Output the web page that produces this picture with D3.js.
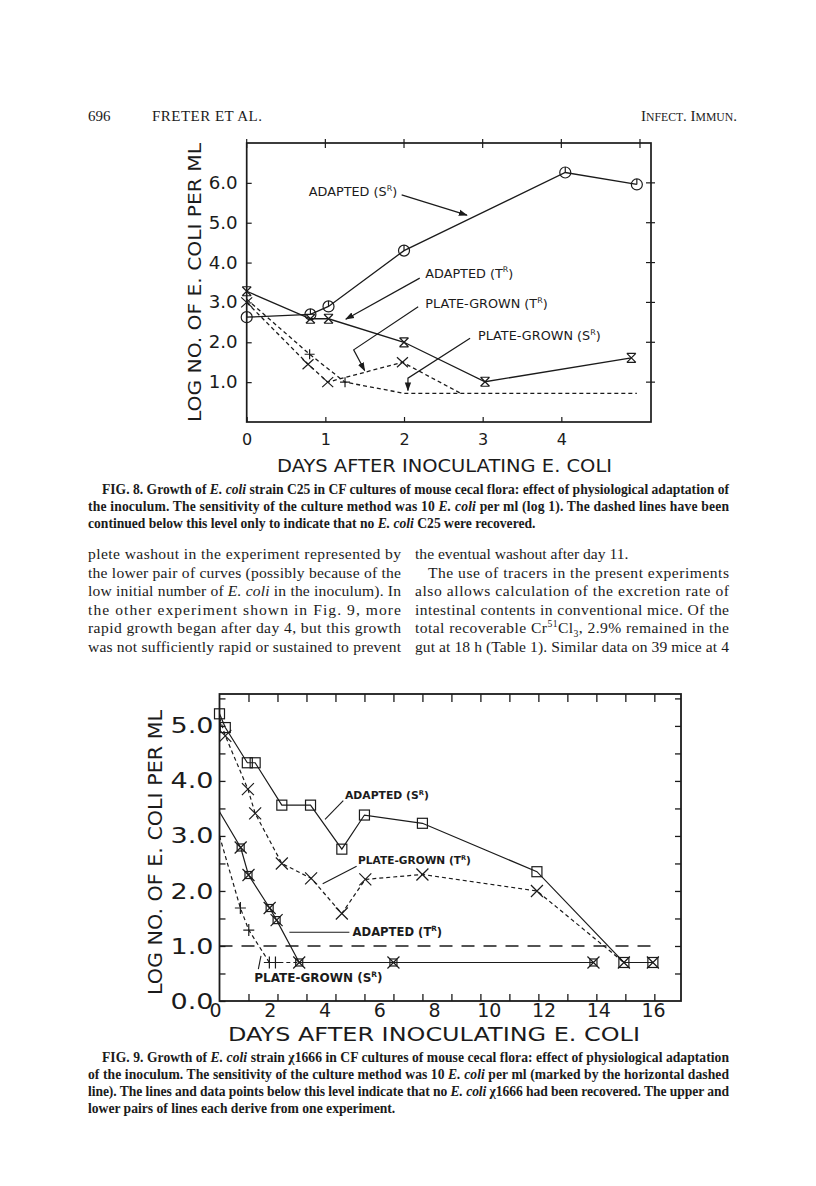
<!DOCTYPE html>
<html><head><meta charset="utf-8">
<script src="https://cdn.jsdelivr.net/npm/d3@7"></script>
<style>body{margin:0;background:#fff}</style>
</head><body>
<svg id="page" width="816" height="1186"></svg>
<script>
// ---------------- DATA ----------------
const headerPage = "696", headerAuthors = "FRETER ET AL.", headerJournal = "INFECT. IMMUN.";

// Fig. 8 (days, log10 E. coli per ml; marks: 1 = plotted symbol)
const f8AdaptedS_days = [0, 0.81, 1.04, 2.0, 4.05, 4.96];
const f8AdaptedS_vals = [2.63, 2.70, 2.90, 4.30, 6.26, 5.96];
const f8AdaptedT_days = [0, 0.81, 1.04, 2.0, 3.03, 4.89];
const f8AdaptedT_vals = [3.28, 2.59, 2.59, 2.0, 1.01, 1.61];
const f8PlateT_days  = [0, 0.78, 1.03, 1.98, 2.72];
const f8PlateT_vals  = [3.0, 1.45, 1.0, 1.5, 0.72];
const f8PlateT_marks = [1, 1, 1, 1, 0];
const f8PlateS_days  = [0, 0.80, 1.25, 2.0, 4.96];
const f8PlateS_vals  = [3.08, 1.70, 1.0, 0.72, 0.72];
const f8PlateS_marks = [0, 1, 1, 0, 0];
const f8YTicks = [1, 2, 3, 4, 5, 6];
const f8XTicks = [0, 1, 2, 3, 4];
const f8TopTicks = [0, 1, 2, 3, 4, 5];

// Fig. 9
const f9AdaptedS_days = [0, 0.2, 0.96, 1.23, 2.15, 3.14, 4.22, 5.0, 7.0, 10.95, 13.95, 14.95];
const f9AdaptedS_vals = [5.22, 4.97, 4.33, 4.33, 3.56, 3.56, 2.76, 3.38, 3.23, 2.35, 0.70, 0.70];
const f9PlateT_days  = [0, 0.2, 0.98, 1.23, 2.15, 3.16, 4.22, 5.03, 7.0, 10.95, 13.95, 14.95];
const f9PlateT_vals  = [5.15, 4.82, 3.85, 3.41, 2.50, 2.23, 1.59, 2.21, 2.30, 2.0, 0.70, 0.70];
const f9PlateT_marks = [0, 1, 1, 1, 1, 1, 1, 1, 1, 1, 1, 1];
const f9AdaptedT_days = [0, 0.73, 1.0, 1.73, 1.97, 2.75, 6.0, 12.9];
const f9AdaptedT_vals = [3.44, 2.79, 2.29, 1.69, 1.47, 0.70, 0.70, 0.70];
const f9AdaptedT_marks = [0, 1, 1, 1, 1, 1, 1, 1];
const f9PlateS_days  = [0, 0.72, 1.01, 1.72, 1.93, 2.75];
const f9PlateS_vals  = [3.0, 1.69, 1.29, 0.70, 0.70, 0.70];
const f9PlateS_marks = [0, 1, 1, 1, 1, 0];
const f9Threshold = 1.0;
const f9YTicks = [0, 0.5, 1, 1.5, 2, 2.5, 3, 3.5, 4, 4.5, 5, 5.5];
const f9XLabels = [0, 2, 4, 6, 8, 10, 12, 14, 16];
const f9DayTicks = [1, 2, 3, 4, 5, 6, 7, 8, 9, 10, 11, 12, 13, 14, 15];

const xLabelText = "DAYS AFTER INOCULATING E. COLI";
const yLabelText = "LOG NO. OF E. COLI PER ML";

// ---------------- HELPERS ----------------
const INK = "#1b1b1b";
const SERIF = "'Liberation Serif','Times New Roman',serif";
const SANS = "'DejaVu Sans','Liberation Sans',sans-serif";
const svg = d3.select("#page");
svg.append("rect").attr("width", 816).attr("height", 1186).attr("fill", "#fff");

const defs = svg.append("defs");
defs.append("marker").attr("id", "ah").attr("viewBox", "0 0 10 10").attr("refX", 9).attr("refY", 5)
  .attr("markerWidth", 9).attr("markerHeight", 9).attr("markerUnits", "userSpaceOnUse").attr("orient", "auto")
  .append("path").attr("d", "M0,1.5L10,5L0,8.5Z").attr("fill", INK);

function rich(parent, x, y, segs, o) {
  const t = parent.append("text").attr("x", x).attr("y", y)
    .attr("font-family", o.family).attr("font-size", o.size)
    .attr("font-weight", o.weight || "normal").attr("fill", INK);
  if (o.anchor) t.attr("text-anchor", o.anchor);
  if (o.width) t.attr("textLength", o.width).attr("lengthAdjust", o.adjust || "spacing");
  let cur = 0;
  segs.forEach(s => {
    const [str, st] = typeof s === "string" ? [s, ""] : s;
    const ts = t.append("tspan").text(str);
    let shift = 0, fs = o.size;
    if (st.includes("i")) ts.attr("font-style", "italic");
    if (st.includes("sup")) { shift = -o.size * 0.42; fs = o.size * 0.62; }
    if (st.includes("sub")) { shift = o.size * 0.22; fs = o.size * 0.62; }
    if (st.includes("sc")) { fs = o.size * 0.78; }
    ts.attr("font-size", fs);
    if (shift - cur !== 0) ts.attr("dy", shift - cur);
    cur = shift;
  });
  return t;
}

function series(days, vals, marks) {
  return days.map((d, i) => ({ x: d, y: vals[i], m: marks ? marks[i] : 1 }));
}

// ---------------- HEADER ----------------
rich(svg, 88, 121, [headerPage], { family: SERIF, size: 15 });
rich(svg, 152, 121, [headerAuthors], { family: SERIF, size: 15, width: 110 });
rich(svg, 737, 121, [["I", ""], ["NFECT", "sc"], [". I", ""], ["MMUN", "sc"], [".", ""]],
  { family: SERIF, size: 15, anchor: "end" });

// ---------------- FIG. 8 ----------------
const x8 = d3.scaleLinear().domain([0, 5.14]).range([246.7, 651]);
const y8 = d3.scaleLinear().domain([0, 7]).range([422, 143]);
const g8 = svg.append("g");

g8.append("rect").attr("x", x8(0)).attr("y", y8(7)).attr("width", x8(5.14) - x8(0))
  .attr("height", y8(0) - y8(7)).attr("fill", "none").attr("stroke", INK).attr("stroke-width", 1.7);

const ax8L = g8.append("g").attr("transform", `translate(${x8(0)},0)`)
  .call(d3.axisLeft(y8).tickValues(f8YTicks).tickFormat(d3.format(".1f")).tickSize(-5).tickPadding(9));
const ax8B = g8.append("g").attr("transform", `translate(0,${y8(0)})`)
  .call(d3.axisBottom(x8).tickValues(f8XTicks).tickFormat(d3.format("d")).tickSize(-5).tickPadding(12));
[ax8L, ax8B].forEach(a => {
  a.select(".domain").remove();
  a.selectAll("line").attr("stroke", INK).attr("stroke-width", 1.2);
  a.selectAll("text").attr("font-family", SANS).attr("font-size", 17).attr("fill", INK);
});
ax8L.selectAll("text").attr("textLength", 29).attr("lengthAdjust", "spacingAndGlyphs");
ax8B.selectAll("text").attr("font-size", 16);
// crossing ticks on top & right
g8.append("g").selectAll("line").data(f8TopTicks).join("line")
  .attr("x1", d => x8(d)).attr("x2", d => x8(d)).attr("y1", y8(7) - 4).attr("y2", y8(7) + 5)
  .attr("stroke", INK).attr("stroke-width", 1.2);
g8.append("g").selectAll("line").data(f8YTicks).join("line")
  .attr("y1", d => y8(d)).attr("y2", d => y8(d)).attr("x1", x8(5.14) - 5).attr("x2", x8(5.14) + 4)
  .attr("stroke", INK).attr("stroke-width", 1.2);

// axis titles
rich(g8, 444.5, 472, [xLabelText], { family: SANS, size: 18, anchor: "middle", width: 335, adjust: "spacingAndGlyphs" });
rich(g8.append("g").attr("transform", `translate(201,${(y8(0) + y8(7)) / 2}) rotate(-90)`), 0, 0, [yLabelText],
  { family: SANS, size: 17.5, anchor: "middle", width: 279, adjust: "spacingAndGlyphs" });

const line8 = d3.line().x(d => x8(d.x)).y(d => y8(d.y));
const f8Series = [
  { pts: series(f8AdaptedS_days, f8AdaptedS_vals), dash: null, mk: "circ" },
  { pts: series(f8AdaptedT_days, f8AdaptedT_vals), dash: null, mk: "xbar" },
  { pts: series(f8PlateT_days, f8PlateT_vals, f8PlateT_marks), dash: "4,3", mk: "x" },
  { pts: series(f8PlateS_days, f8PlateS_vals, f8PlateS_marks), dash: "4,3", mk: "plus" }
];
const shapes = {
  circ: g => { g.append("circle").attr("r", 5.5); g.append("path").attr("d", "M0,-5.5V0"); },
  xbar: g => g.append("path").attr("d", "M-4.5,-4.5L4.5,4.5M4.5,-4.5L-4.5,4.5M-4.5,-4.5H4.5M-4.5,4.5H4.5"),
  x: g => g.append("path").attr("d", "M-5.5,-5L5.5,5M5.5,-5L-5.5,5"),
  plus: g => g.append("path").attr("d", "M-5,0H5M0,-5V5"),
  sq: g => { g.append("rect").attr("x", -5).attr("y", -5).attr("width", 10).attr("height", 10); },
  x9: g => g.append("path").attr("d", "M-6,-6L6,6M6,-6L-6,6"),
  boxstar: g => { g.append("rect").attr("x", -3.5).attr("y", -3.5).attr("width", 7).attr("height", 7);
                  g.append("path").attr("d", "M-6,-6L6,6M6,-6L-6,6"); },
  plus9: g => g.append("path").attr("d", "M-5.5,0H5.5M0,-6V6")
};
function drawSeries(parent, list, line, xs, ys, width) {
  list.forEach(s => {
    parent.append("path").attr("d", line(s.pts)).attr("fill", "none").attr("stroke", INK)
      .attr("stroke-width", width).attr("stroke-dasharray", s.dash);
    parent.append("g").selectAll("g").data(s.pts.filter(p => p.m)).join("g")
      .attr("transform", d => `translate(${xs(d.x)},${ys(d.y)})`)
      .attr("fill", "none").attr("stroke", INK).attr("stroke-width", 1.2)
      .each(function () { shapes[s.mk](d3.select(this)); });
  });
}
drawSeries(g8, f8Series, line8, x8, y8, 1.3);

// annotations (positions in data units)
const ann8 = g8.append("g");
const A8 = { family: SANS, size: 12.8 };
rich(ann8, x8(0.79), y8(5.67), ["ADAPTED (S", ["R", "sup"], ")"], A8);
rich(ann8, x8(2.27), y8(3.62), ["ADAPTED (T", ["R", "sup"], ")"], A8);
rich(ann8, x8(2.27), y8(2.86), ["PLATE-GROWN (T", ["R", "sup"], ")"], A8);
rich(ann8, x8(2.94), y8(2.06), ["PLATE-GROWN (S", ["R", "sup"], ")"], A8);
const lead8 = d3.line().x(d => x8(d[0])).y(d => y8(d[1]));
[
  [[1.97, 5.70], [2.80, 5.19]],
  [[2.20, 3.61], [1.26, 2.58]],
  [[2.18, 2.89], [1.36, 1.81], [1.50, 1.29]],
  [[2.84, 2.10], [2.05, 1.10], [2.05, 0.79]]
].forEach(p => ann8.append("path").attr("d", lead8(p)).attr("fill", "none").attr("stroke", INK)
  .attr("stroke-width", 1.2).attr("marker-end", "url(#ah)"));

// ---------------- CAPTION 8 ----------------
const CAP = { family: SERIF, size: 13.6, weight: "bold" };
rich(svg, 102, 494, ["FIG. 8. Growth of ", ["E. coli", "i"], " strain C25 in CF cultures of mouse cecal flora: effect of physiological adaptation of"], { ...CAP, width: 627 });
rich(svg, 88, 511, ["the inoculum. The sensitivity of the culture method was 10 ", ["E. coli", "i"], " per ml (log 1). The dashed lines have been"], { ...CAP, width: 641 });
rich(svg, 88, 527.5, ["continued below this level only to indicate that no ", ["E. coli", "i"], " C25 were recovered."], CAP);

// ---------------- BODY TEXT ----------------
const BODY = { family: SERIF, size: 15.6 };
const leftCol = [
  [["plete washout in the experiment represented by"], true],
  [["the lower pair of curves (possibly because of the"], true],
  [["low initial number of ", ["E. coli", "i"], " in the inoculum). In"], true],
  [["the other experiment shown in Fig. 9, more"], true],
  [["rapid growth began after day 4, but this growth"], true],
  [["was not sufficiently rapid or sustained to prevent"], true]
];
const rightCol = [
  [["the eventual washout after day 11."], false, 0],
  [["The use of tracers in the present experiments"], true, 13],
  [["also allows calculation of the excretion rate of"], true, 0],
  [["intestinal contents in conventional mice. Of the"], true, 0],
  [["total recoverable Cr", ["51", "sup"], "Cl", ["3", "sub"], ", 2.9% remained in the"], true, 0],
  [["gut at 18 h (Table 1). Similar data on 39 mice at 4"], true, 0]
];
leftCol.forEach((l, i) => rich(svg, 88, 559 + i * 18.6, l[0], l[1] ? { ...BODY, width: 313 } : BODY));
rightCol.forEach((l, i) => rich(svg, 415 + l[2], 559 + i * 18.6, l[0], l[1] ? { ...BODY, width: 314 - l[2] } : BODY));

// ---------------- FIG. 9 ----------------
const x9 = d3.scaleLinear().domain([0, 15.92]).range([219.5, 681]);
const x9lab = d3.scaleLinear().domain([0, 16]).range([215, 653]);
const y9 = d3.scaleLinear().domain([0, 5.58]).range([1001, 694]);
const g9 = svg.append("g");
g9.append("rect").attr("x", x9(0)).attr("y", y9(5.58)).attr("width", x9(15.92) - x9(0))
  .attr("height", y9(0) - y9(5.58)).attr("fill", "none").attr("stroke", INK).attr("stroke-width", 1.8);

const ax9L = g9.append("g").attr("transform", `translate(${x9(0)},0)`)
  .call(d3.axisLeft(y9).tickValues(f9YTicks).tickFormat(d => d % 1 === 0 ? d.toFixed(1) : "").tickSize(-6).tickPadding(6));
const ax9R = g9.append("g").attr("transform", `translate(${x9(15.92)},0)`)
  .call(d3.axisRight(y9).tickValues(f9YTicks.filter(d => d > 0)).tickFormat("").tickSize(-6));
const ax9T = g9.append("g").attr("transform", `translate(0,${y9(5.58)})`)
  .call(d3.axisTop(x9).tickValues(f9DayTicks).tickFormat("").tickSize(-8));
const ax9B = g9.append("g").attr("transform", `translate(0,${y9(0)})`)
  .call(d3.axisBottom(x9).tickValues(f9DayTicks).tickFormat("").tickSize(-7));
const ax9Lab = g9.append("g").attr("transform", `translate(0,${y9(0)})`)
  .call(d3.axisBottom(x9lab).tickValues(f9XLabels).tickFormat(d3.format("d")).tickSize(0).tickPadding(2.5));
[ax9L, ax9R, ax9T, ax9B, ax9Lab].forEach(a => {
  a.select(".domain").remove();
  a.selectAll("line").attr("stroke", INK).attr("stroke-width", 1.3);
  a.selectAll("text").attr("font-family", SANS).attr("font-size", 22).attr("fill", INK);
});
ax9L.selectAll("text").filter(d => d % 1 === 0).attr("textLength", 43).attr("lengthAdjust", "spacingAndGlyphs");
ax9Lab.selectAll("text").attr("font-size", 19);

rich(g9, 434, 1041, [xLabelText], { family: SANS, size: 20, anchor: "middle", width: 412, adjust: "spacingAndGlyphs" });
rich(g9.append("g").attr("transform", `translate(162,${(710 + 995) / 2}) rotate(-90)`), 0, 0, [yLabelText],
  { family: SANS, size: 19.5, anchor: "middle", width: 285, adjust: "spacingAndGlyphs" });

// detection limit
g9.append("path").attr("d", d3.line().x(d => x9(d)).y(() => y9(f9Threshold))([0, 15]))
  .attr("stroke", INK).attr("stroke-width", 1.3).attr("stroke-dasharray", "13,9").attr("fill", "none");

const line9 = d3.line().x(d => x9(d.x)).y(d => y9(d.y));
const f9Series = [
  { pts: series(f9AdaptedS_days, f9AdaptedS_vals), dash: null, mk: "sq" },
  { pts: series(f9PlateT_days, f9PlateT_vals, f9PlateT_marks), dash: "4,3", mk: "x9" },
  { pts: series(f9AdaptedT_days, f9AdaptedT_vals, f9AdaptedT_marks), dash: null, mk: "boxstar" },
  { pts: series(f9PlateS_days, f9PlateS_vals, f9PlateS_marks), dash: "4,3", mk: "plus9" }
];
drawSeries(g9, f9Series, line9, x9, y9, 1.2);

const ann9 = g9.append("g");
const A9 = { family: SANS, weight: "bold" };
rich(ann9, x9(4.33), y9(3.67), ["ADAPTED (S", ["R", "sup"], ")"], { ...A9, size: 10.8 });
rich(ann9, x9(4.78), y9(2.49), ["PLATE-GROWN (T", ["R", "sup"], ")"], { ...A9, size: 10.6 });
rich(ann9, x9(4.59), y9(1.18), ["ADAPTED (T", ["R", "sup"], ")"], { ...A9, size: 11.6 });
rich(ann9, x9(1.20), y9(0.35), ["PLATE-GROWN (S", ["R", "sup"], ")"], { ...A9, size: 12 });
const lead9 = d3.line().x(d => x9(d[0])).y(d => y9(d[1]));
[
  [[4.27, 3.64], [3.64, 3.30]],
  [[4.73, 2.45], [3.56, 2.13]],
  [[4.48, 1.25], [2.41, 1.25]],
  [[1.43, 0.82], [1.34, 0.58]]
].forEach(p => ann9.append("path").attr("d", lead9(p)).attr("fill", "none").attr("stroke", INK).attr("stroke-width", 1.1));

// ---------------- CAPTION 9 ----------------
rich(svg, 102, 1062, ["FIG. 9. Growth of ", ["E. coli", "i"], " strain χ1666 in CF cultures of mouse cecal flora: effect of physiological adaptation"], { ...CAP, width: 627 });
rich(svg, 88, 1079, ["of the inoculum. The sensitivity of the culture method was 10 ", ["E. coli", "i"], " per ml (marked by the horizontal dashed"], { ...CAP, width: 641 });
rich(svg, 88, 1096, ["line). The lines and data points below this level indicate that no ", ["E. coli", "i"], " χ1666 had been recovered. The upper and"], { ...CAP, width: 641 });
rich(svg, 88, 1113, ["lower pairs of lines each derive from one experiment."], CAP);
</script>
</body></html>
